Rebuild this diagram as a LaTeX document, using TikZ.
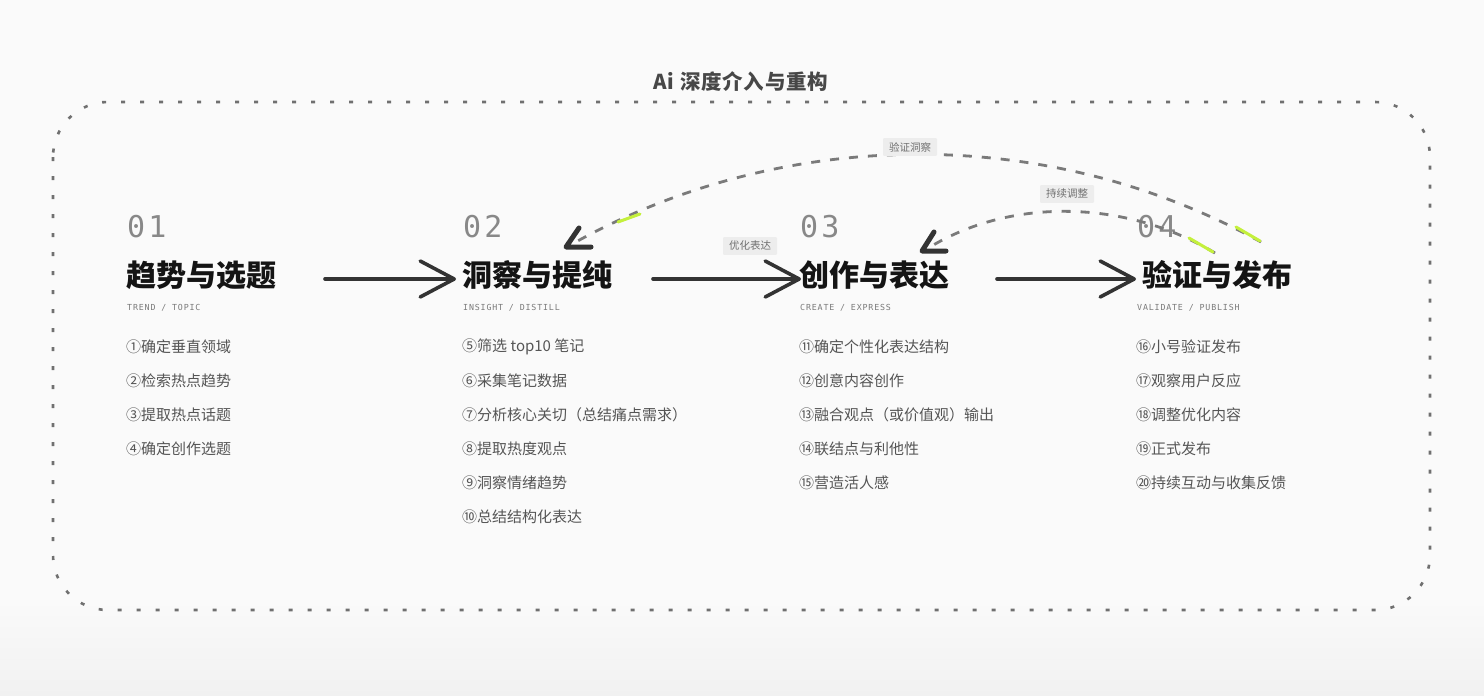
\documentclass[tikz,border=0pt]{standalone}
\usepackage{fontspec}
\usetikzlibrary{arrows.meta}
\setmainfont{Noto Sans CJK SC}
\newfontfamily\cjk{Noto Sans CJK SC}
\newfontfamily\cjkls[LetterSpace=4]{Noto Sans CJK SC}
\newfontfamily\monof[LetterSpace=10]{DejaVu Sans Mono}
\definecolor{bgc}{HTML}{FAFAFA}
\definecolor{bgbot}{HTML}{F1F1F1}
\definecolor{framec}{HTML}{707070}
\definecolor{curvec}{HTML}{7A7A7A}
\definecolor{darkc}{HTML}{333333}
\definecolor{numgray}{HTML}{888888}
\definecolor{subgray}{HTML}{7A7A7A}
\definecolor{itemgray}{HTML}{555555}
\definecolor{lblbg}{HTML}{EDEDED}
\definecolor{lblgray}{HTML}{707070}
\definecolor{limec}{HTML}{C4F03C}
\begin{document}
\begin{tikzpicture}[x=1pt,y=-1pt,
  numtxt/.style={anchor=west,inner sep=0pt,text=numgray,font=\monof\fontsize{30}{30}\selectfont},
  ttl/.style={anchor=west,inner sep=0pt,text=black!92,font=\cjk\bfseries\fontsize{30}{30}\selectfont},
  subtxt/.style={anchor=west,inner sep=0pt,text=subgray,font=\monof\fontsize{8.3}{9}\selectfont},
  item/.style={anchor=west,inner sep=0pt,text=itemgray,font=\cjk\fontsize{15}{15}\selectfont},
  lbl/.style={fill=lblbg,text=lblgray,font=\cjk\fontsize{10.5}{11}\selectfont,inner xsep=6pt,inner ysep=4pt,rounded corners=1pt},
  framestyle/.style={draw=framec,line width=2.6pt,dash pattern=on 4pt off 15pt,rounded corners=55pt},
  mainarrow/.style={draw=darkc,line width=3.6pt,line cap=round,-{Straight Barb[length=34pt,width=36pt,round]}},
  backcurve/.style={draw=curvec,line width=2.8pt,dash pattern=on 9pt off 10pt},
  chev/.style={draw=darkc,line width=5pt,line cap=round,line join=round},
  hilite/.style={draw=limec,line width=3pt,line cap=round}
]
\useasboundingbox (0,0) rectangle (1484,696);
\fill[bgc] (0,0) rectangle (1484,696);
\shade[top color=bgc,bottom color=bgbot] (0,600) rectangle (1484,696);

% frame
\draw[framestyle] (53,102) rectangle (1430,610);
\node[inner sep=0pt,text=darkc!90,font=\cjkls\bfseries\fontsize{20.5}{21}\selectfont] (ai) at (741,82) {Ai 深度介入与重构};

% columns
\node[numtxt] (n1) at (127,227) {01};
\node[numtxt] (n2) at (463,227) {02};
\node[numtxt] (n3) at (800,227) {03};
\node[numtxt] (n4) at (1137,227) {04};

\node[ttl] (t1) at (126,275) {趋势与选题};
\node[ttl] (t2) at (462,275) {洞察与提纯};
\node[ttl] (t3) at (799,275) {创作与表达};
\node[ttl] (t4) at (1142,275) {验证与发布};

\node[subtxt] (s1) at (127,308) {TREND / TOPIC};
\node[subtxt] (s2) at (463,308) {INSIGHT / DISTILL};
\node[subtxt] (s3) at (800,308) {CREATE / EXPRESS};
\node[subtxt] (s4) at (1137,308) {VALIDATE / PUBLISH};

\node[item] (i1) at (126,347) {①确定垂直领域};
\node[item] (i2) at (126,381) {②检索热点趋势};
\node[item] (i3) at (126,415) {③提取热点话题};
\node[item] (i4) at (126,449) {④确定创作选题};

\node[item] (i5) at (462,347) {⑤筛选 top10 笔记};
\node[item] (i6) at (462,381) {⑥采集笔记数据};
\node[item] (i7) at (462,415) {⑦分析核心关切（总结痛点需求）};
\node[item] (i8) at (462,449) {⑧提取热度观点};
\node[item] (i9) at (462,483) {⑨洞察情绪趋势};
\node[item] (i10) at (462,517) {⑩总结结构化表达};

\node[item] (i11) at (799,347) {⑪确定个性化表达结构};
\node[item] (i12) at (799,381) {⑫创意内容创作};
\node[item] (i13) at (799,415) {⑬融合观点（或价值观）输出};
\node[item] (i14) at (799,449) {⑭联结点与利他性};
\node[item] (i15) at (799,483) {⑮营造活人感};

\node[item] (i16) at (1136,347) {⑯小号验证发布};
\node[item] (i17) at (1136,381) {⑰观察用户反应};
\node[item] (i18) at (1136,415) {⑱调整优化内容};
\node[item] (i19) at (1136,449) {⑲正式发布};
\node[item] (i20) at (1136,483) {⑳持续互动与收集反馈};

% main arrows
\coordinate (a1s) at (325,279); \coordinate (a1e) at (456,279);
\coordinate (a2s) at (653,279); \coordinate (a2e) at (801,279);
\coordinate (a3s) at (997,279); \coordinate (a3e) at (1136,279);
\draw[mainarrow] (a1s) -- (a1e);
\draw[mainarrow] (a2s) -- (a2e);
\draw[mainarrow] (a3s) -- (a3e);

% feedback curves
\coordinate (c1s) at (1261,242); \coordinate (c1e) at (566,247);
\coordinate (c2s) at (1215,253); \coordinate (c2e) at (922,251);
\draw[backcurve] (c1s) .. controls (1044,122) and (781,128) .. ([shift={(8,-4)}]c1e);
\draw[backcurve] (c2s) .. controls (1125,199) and (1011,198) .. ([shift={(8,-4)}]c2e);
\draw[chev] ([shift={(13,-19)}]c1e) -- (c1e) -- ([shift={(25,0)}]c1e);
\draw[chev] ([shift={(12,-19)}]c2e) -- (c2e) -- ([shift={(24,0)}]c2e);

% highlights
\draw[hilite] (1236,227) -- (1260,241);
\draw[hilite] (1189,238) -- (1213,252);
\draw[hilite] (618,222) -- (640,214);

% labels
\node[lbl] (l1) at (910,147) {验证洞察};
\node[lbl] (l2) at (1067,194) {持续调整};
\node[lbl] (l3) at (750,246) {优化表达};
\end{tikzpicture}
\end{document}
